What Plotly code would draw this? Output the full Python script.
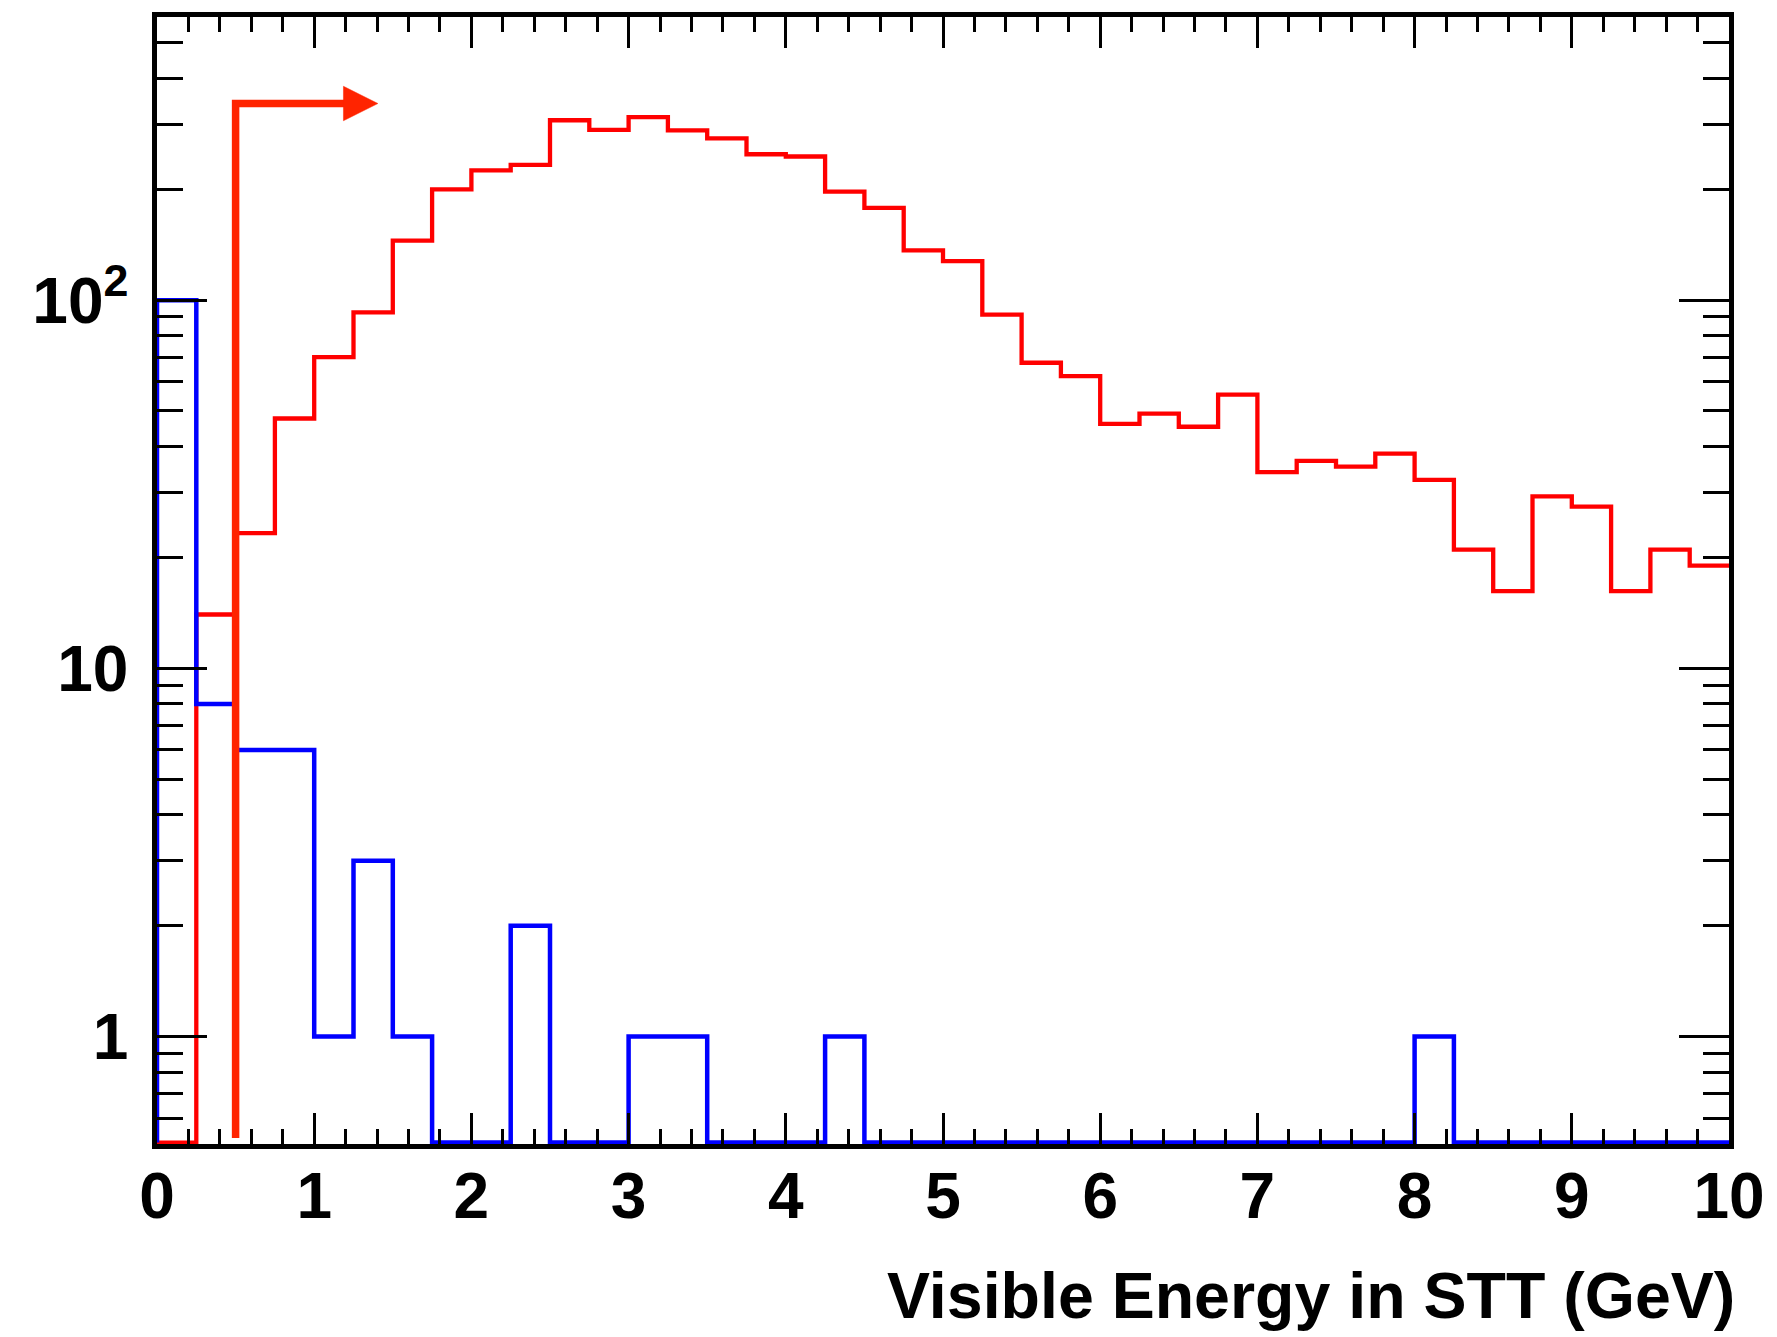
import numpy as np
import plotly.graph_objects as go

# ---------------- data ----------------
bin_edges = [round(0.25 * i, 2) for i in range(41)]  # 0 .. 10 GeV, 40 bins

signal_counts = [0, 14, 23.3, 47.7, 70, 92.6, 145, 200, 225, 233,
                 308, 290, 314, 289, 275, 249, 245.5, 197, 178, 136.5,
                 127.7, 91.3, 67.6, 62.2, 46.1, 49.2, 45.3, 55.4, 34.1, 36.6,
                 35.3, 38.3, 32.5, 21.0, 16.2, 29.3, 27.5, 16.2, 21.0, 19.0]

background_counts = [100, 8, 6, 6, 1, 3, 1, 0, 0, 2,
                     0, 0, 1, 1, 0, 0, 0, 1, 0, 0,
                     0, 0, 0, 0, 0, 0, 0, 0, 0, 0,
                     0, 0, 1, 0, 0, 0, 0, 0, 0, 0]

cut_value = 0.5          # GeV, selection cut shown by the arrow
arrow_level = 342        # y value of the arrow's horizontal bar
arrow_bottom = 0.53
arrow_head_base = 1.186
arrow_head_tip = 1.405

x_range = [0, 10]
y_range_log = [-0.292, 2.769]

x_title = "Visible Energy in STT (GeV)"
y_tickvals = [1, 10, 100]
y_ticktext = ["1", "10", "10<sup>2</sup>"]
x_tickvals = list(range(0, 11))

# ---------------- styling ----------------
FONT = "Liberation Sans"
RED = "#ff0000"
BLUE = "#0000ff"
ARROW = "#ff2400"

floor_val = 10 ** (y_range_log[0] + 0.004)   # empty bins drawn at the frame bottom


def step_xy(edges, counts):
    xs = [edges[0]]
    ys = [floor_val]
    for i, c in enumerate(counts):
        xs.append(edges[i])
        ys.append(c if c > 0 else floor_val)
    xs.append(edges[-1])
    ys.append(counts[-1] if counts[-1] > 0 else floor_val)
    return xs, ys


fig = go.Figure()

sx, sy = step_xy(bin_edges, signal_counts)
fig.add_trace(go.Scatter(x=sx, y=sy, mode="lines", line=dict(color=RED, width=4.3, shape="hv"),
                         hoverinfo="skip", showlegend=False))

bx, by = step_xy(bin_edges, background_counts)
fig.add_trace(go.Scatter(x=bx, y=by, mode="lines", line=dict(color=BLUE, width=4.5, shape="hv"),
                         hoverinfo="skip", showlegend=False))

# cut arrow
fig.add_trace(go.Scatter(x=[cut_value, cut_value, arrow_head_base + 0.02],
                         y=[arrow_bottom, arrow_level, arrow_level],
                         mode="lines", line=dict(color=ARROW, width=7.5),
                         hoverinfo="skip", showlegend=False))
head_half = 10 ** (17.3 / 370.0)
fig.add_trace(go.Scatter(x=[arrow_head_base, arrow_head_tip, arrow_head_base, arrow_head_base],
                         y=[arrow_level * head_half, arrow_level, arrow_level / head_half, arrow_level * head_half],
                         mode="lines", fill="toself", fillcolor=ARROW,
                         line=dict(color=ARROW, width=0.5),
                         hoverinfo="skip", showlegend=False))

y_minor = [v * 10 ** d for d in (-1, 0, 1, 2) for v in range(2, 10)]
y_minor = [v for v in y_minor if 10 ** y_range_log[0] < v < 10 ** y_range_log[1]]

fig.update_xaxes(
    range=x_range, showline=True, linecolor="black", linewidth=4.5, mirror="allticks",
    ticks="inside", ticklen=31, tickwidth=2.5, tickcolor="black",
    tickvals=x_tickvals, ticktext=[str(v) for v in x_tickvals],
    tickfont=dict(family=FONT, size=64, color="black", weight="bold"),
    ticklabelstandoff=-8,
    minor=dict(ticks="inside", ticklen=15, tickwidth=2.5, tickcolor="black", dtick=0.2, tick0=0, showgrid=False),
    showgrid=False, zeroline=False,
)
fig.update_yaxes(
    type="log", range=y_range_log, showline=True, linecolor="black", linewidth=4.5, mirror="allticks",
    ticks="inside", ticklen=50, tickwidth=2.5, tickcolor="black",
    tickvals=y_tickvals, ticktext=y_ticktext,
    tickfont=dict(family=FONT, size=64, color="black", weight="bold"),
    ticklabelstandoff=11,
    minor=dict(ticks="inside", ticklen=26, tickwidth=2.5, tickcolor="black", tickvals=y_minor, showgrid=False),
    showgrid=False, zeroline=False,
)

fig.add_annotation(text=x_title, xref="paper", yref="paper", x=1, y=0, xanchor="right", yanchor="top",
                   xshift=8, yshift=-114, showarrow=False,
                   font=dict(family=FONT, size=64.5, color="black", weight="bold"))

fig.update_layout(
    width=1777, height=1337,
    margin=dict(l=157, r=42, t=14, b=193, pad=0),
    paper_bgcolor="white", plot_bgcolor="white",
    showlegend=False,
)

fig.write_html("out.html", config={"displayModeBar": False},
               post_script="document.body.style.margin='0';")
